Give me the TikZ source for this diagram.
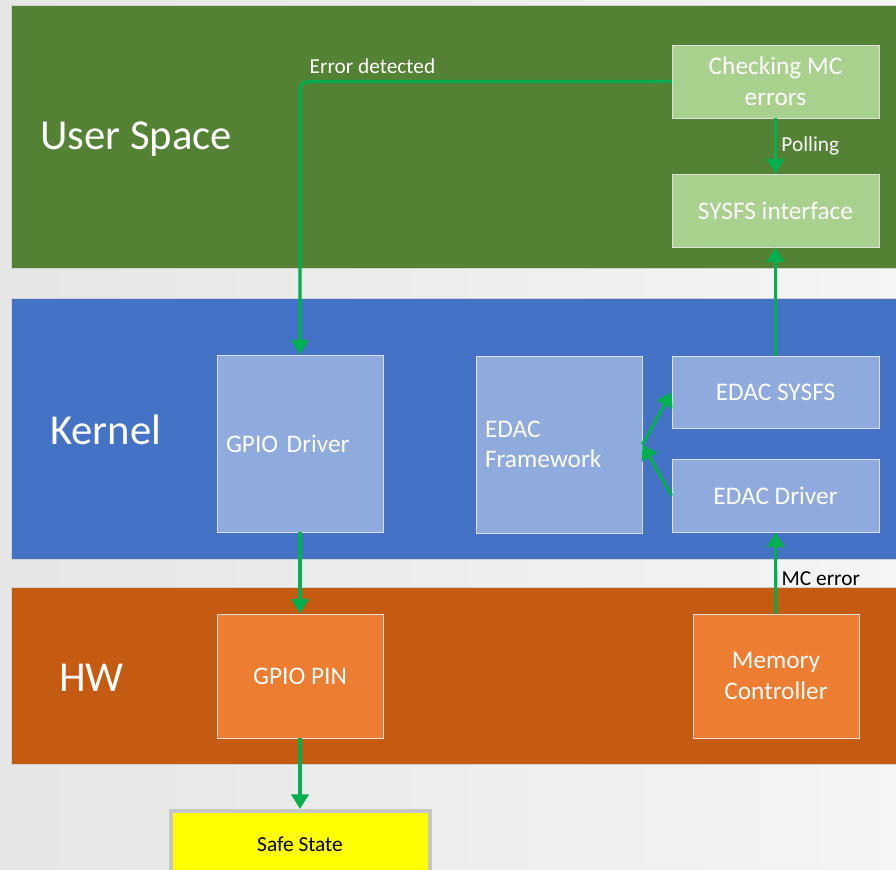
\documentclass[tikz,border=0pt]{standalone}
\usepackage{fontspec}
\setmainfont{Carlito}
\usetikzlibrary{arrows.meta}
\usetikzlibrary{positioning}
\definecolor{userband}{HTML}{548235}
\definecolor{kernband}{HTML}{4472C4}
\definecolor{hwband}{HTML}{C55A11}
\definecolor{userbox}{HTML}{A9D18E}
\definecolor{kernbox}{HTML}{8FAADC}
\definecolor{hwbox}{HTML}{ED7D31}
\definecolor{flowgreen}{HTML}{00B050}
\definecolor{safeyellow}{HTML}{FFFF00}
\tikzset{
  band/.style={draw=gray!35, line width=0.5pt},
  layer/.style={anchor=west, inner sep=0pt, text=white, font=\fontsize{32}{38}\selectfont},
  box/.style={draw=gray!25, line width=0.6pt, text=white, align=center,
    font=\fontsize{19}{23}\selectfont, inner sep=0pt},
  leftbox/.style={box, align=left, inner xsep=6.75pt, text width=111pt},
  flow/.style={draw=flowgreen, line width=2.3pt, -{Triangle[width=13pt,length=11pt]}},
  note/.style={font=\fontsize{16}{19}\selectfont},
}

\begin{document}
\begin{tikzpicture}[x=0.75pt,y=-0.75pt]
  \clip (0,0) rectangle (896,870);
  % background and the three layers
  \shade[left color=gray!20, right color=gray!8] (0,0) rectangle (896,870);
  \filldraw[band, fill=userband] (11,5) rectangle (897,268);
  \filldraw[band, fill=kernband] (11,298) rectangle (897,559);
  \filldraw[band, fill=hwband] (11,587) rectangle (897,764);
  \node[layer] (user) at (40,139) {User Space};
  \node[layer] (kern) at (50,430) {Kernel};
  \node[layer] (hw) at (59,678) {HW};
  % user space
  \node[box, fill=userbox, minimum width=155.25pt, minimum height=54.75pt]
    (check) at (775.5,81.5) {Checking MC\\errors};
  \node[box, fill=userbox, minimum width=155.25pt, minimum height=54.75pt]
    (sysfsif) at (775.5,210.5) {SYSFS interface};
  % kernel
  \node[leftbox, fill=kernbox, minimum height=132.75pt]
    (gpiodrv) at (300,443.5) {GPIO Driver};
  \node[leftbox, fill=kernbox, minimum height=132.75pt]
    (edacfw) at (559,444.5) {EDAC\\Framework};
  \node[box, fill=kernbox, minimum width=155.25pt, minimum height=54pt]
    (edacsysfs) at (775.5,392) {EDAC SYSFS};
  \node[box, fill=kernbox, minimum width=155.25pt, minimum height=54.75pt]
    (edacdrv) at (775.5,495.5) {EDAC Driver};
  % hardware
  \node[box, fill=hwbox, minimum width=124.5pt, minimum height=93pt]
    (gpiopin) at (300,676) {GPIO PIN};
  \node[box, fill=hwbox, minimum width=124.5pt, minimum height=93pt]
    (memctrl) at (776,676) {Memory\\Controller};
  \node[draw=gray!45, line width=3pt, fill=safeyellow, note, text=black,
    minimum width=194.25pt, minimum height=49.5pt]
    (safe) at (300,844) {Safe State};
  % connections
  \draw[flow, rounded corners=6pt] (check.west) -| (gpiodrv.north);
  \node[note, text=white, anchor=west] (errlabel) at (305,66) {Error detected};
  \draw[flow] (check) -- node[note, text=white, right] {Polling} (sysfsif);
  \draw[flow] (edacsysfs) -- (sysfsif);
  \draw[flow] (edacfw.east) -- (edacsysfs.west);
  \draw[flow] (edacdrv.west) -- (edacfw.east);
  \draw[flow] (memctrl) -- node[note, pos=0.43, right] {MC error} (edacdrv);
  \draw[flow] (gpiodrv) -- (gpiopin);
  \draw[flow] (gpiopin) -- (safe);
\end{tikzpicture}
\end{document}
